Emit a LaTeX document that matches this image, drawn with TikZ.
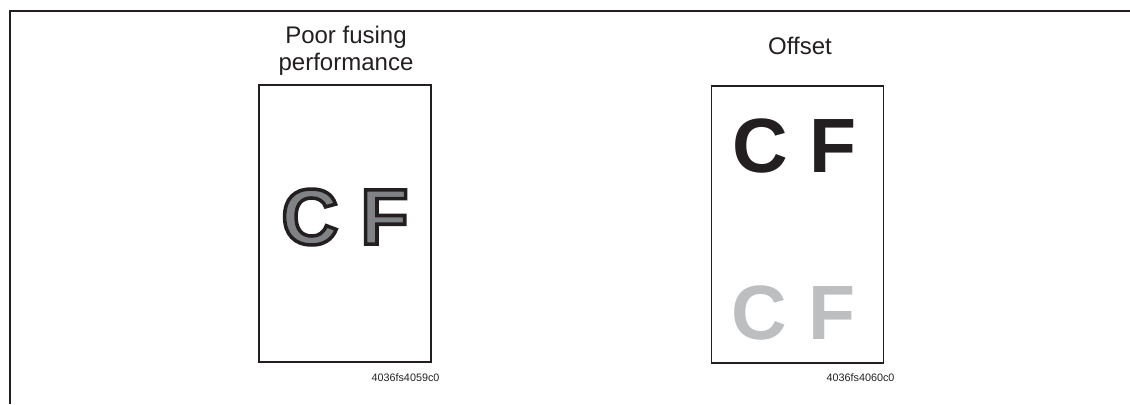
\documentclass[tikz,border=0pt]{standalone}
\usepackage{fontspec}
\setmainfont{Liberation Sans}
\newfontfamily\rimfont[FakeBold=4.5]{Liberation Sans Bold}
\usepackage{xcolor}
\usepackage{tikz}
\usetikzlibrary{positioning}
\definecolor{frameLine}{HTML}{231F20}
\definecolor{inkDark}{HTML}{231F20}
\definecolor{inkMid}{HTML}{808285}
\definecolor{inkLight}{HTML}{BCBEC0}
% grey fill, dark rim
\newcommand{\rimtext}[1]{\special{pdf:bcolor [0.502 0.510 0.522] [0.137 0.122 0.125]}#1\special{pdf:ecolor}}

\begin{document}
\begin{tikzpicture}[
  x=0.5pt, y=-0.5pt,
  sheet/.style={rectangle, draw=frameLine, line width=0.75pt, minimum width=86pt, minimum height=138.5pt, inner sep=0pt},
  title/.style={font=\fontsize{12}{13.4}\selectfont, text=inkDark, anchor=base, inner sep=0pt},
  code/.style={font=\fontsize{5.4}{6}\selectfont, text=inkDark, anchor=base, inner sep=0pt},
  letters/.style={font=\fontsize{38.5}{40}\selectfont\bfseries, inner sep=0pt}
]
  \useasboundingbox (0,0) rectangle (1130,404);

  % Frame
  \draw [line width=1.25pt, frameLine] (10,404) -- (10,11) -- (1130,11);

  % Nodes
  \node (sheetPoor) [sheet] at (345,223.5) {};
  \node (sheetOffset) [sheet] at (797.5,224.5) {};

  \node (titlePoor) [title] at (346,43.3) {Poor fusing};
  \node (titlePoorB) [title] at (346,70) {performance};
  \node (titleOffset) [title] at (800,54) {Offset};

  \node (cfPoor) [letters, font=\fontsize{39.5}{41}\selectfont\rimfont] at (345,217) {\rimtext{C F}};

  \node (cfTop) [letters, text=inkDark] at (794.5,146) {C F};
  \node (cfGhost) [letters, text=inkLight] at (794,312.5) {C F};

  \node (codePoor) [code] at (405.5,381.7) {4036fs4059c0};
  \node (codeOffset) [code] at (860.5,381.7) {4036fs4060c0};
\end{tikzpicture}
\end{document}
